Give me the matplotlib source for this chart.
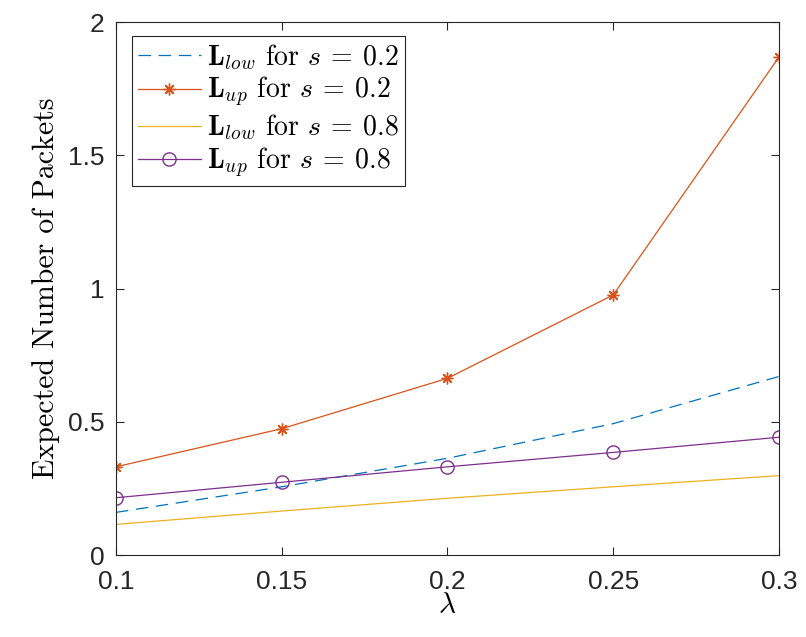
import matplotlib
matplotlib.use("Agg")
import matplotlib.pyplot as plt
import numpy as np

plt.rcParams['mathtext.fontset'] = 'cm'
plt.rcParams['font.family'] = ['Liberation Sans', 'DejaVu Sans']
plt.rcParams['lines.scale_dashes'] = False

## data
lam = [0.1, 0.15, 0.2, 0.25, 0.3]
L_low_02 = [0.160, 0.256, 0.363, 0.493, 0.670]
L_up_02 = [0.331, 0.474, 0.663, 0.976, 1.869]
L_low_08 = [0.115, 0.165, 0.213, 0.256, 0.298]
L_up_08 = [0.215, 0.273, 0.331, 0.385, 0.442]

labels = [r'$\mathbf{L}_{low}$ for $s\:=\:0.2$',
          r'$\mathbf{L}_{up}$ for $s\:=\:0.2$',
          r'$\mathbf{L}_{low}$ for $s\:=\:0.8$',
          r'$\mathbf{L}_{up}$ for $s\:=\:0.8$']
colors = ['#0072BD', '#D95319', '#EDB120', '#7E2F8E']
xticks = [0.1, 0.15, 0.2, 0.25, 0.3]
yticks = [0, 0.5, 1, 1.5, 2]

fig = plt.figure(figsize=(8.06, 6.37), dpi=100)
ax = fig.add_axes([0.1439, 0.1287, 0.8226, 0.8367])

lw = 0.9
ax.plot(lam, L_low_02, color=colors[0], lw=lw, dashes=(9, 5.5), label=labels[0])
ax.plot(lam, L_up_02, color=colors[1], lw=lw, marker=(8, 2, 0), ms=8.5,
        mew=1.0, label=labels[1])
ax.plot(lam, L_low_08, color=colors[2], lw=lw, label=labels[2])
ax.plot(lam, L_up_08, color=colors[3], lw=lw, marker='o', ms=9.5,
        mfc='none', mew=1.0, label=labels[3])

ax.set_xlim(0.1, 0.3)
ax.set_ylim(0, 2)
ax.set_xticks(xticks)
ax.set_xticklabels(['0.1', '0.15', '0.2', '0.25', '0.3'])
ax.set_yticks(yticks)
ax.set_yticklabels(['0', '0.5', '1', '1.5', '2'])

for s in ax.spines.values():
    s.set_color('#262626')
    s.set_linewidth(0.8)
ax.tick_params(direction='in', length=6, width=0.8, color='#262626',
               labelsize=19, labelcolor='#262626', top=True, right=True)
ax.tick_params(axis='x', pad=11)
ax.tick_params(axis='y', pad=8)

ax.set_xlabel(r'$\lambda$', fontsize=21, labelpad=-2)
ax.set_ylabel('Expected Number of Packets', fontsize=21.5, family='cmr10', labelpad=6)

leg = ax.legend(loc='upper left', bbox_to_anchor=(0.024, 0.974),
                prop={'family': 'cmr10', 'size': 20},
                fancybox=False, edgecolor='#262626', framealpha=1,
                handlelength=2.25, handletextpad=0.25, labelspacing=0.12,
                borderpad=0.22, borderaxespad=0)
leg.get_frame().set_linewidth(0.8)

fig.savefig('out.png', dpi=100)
